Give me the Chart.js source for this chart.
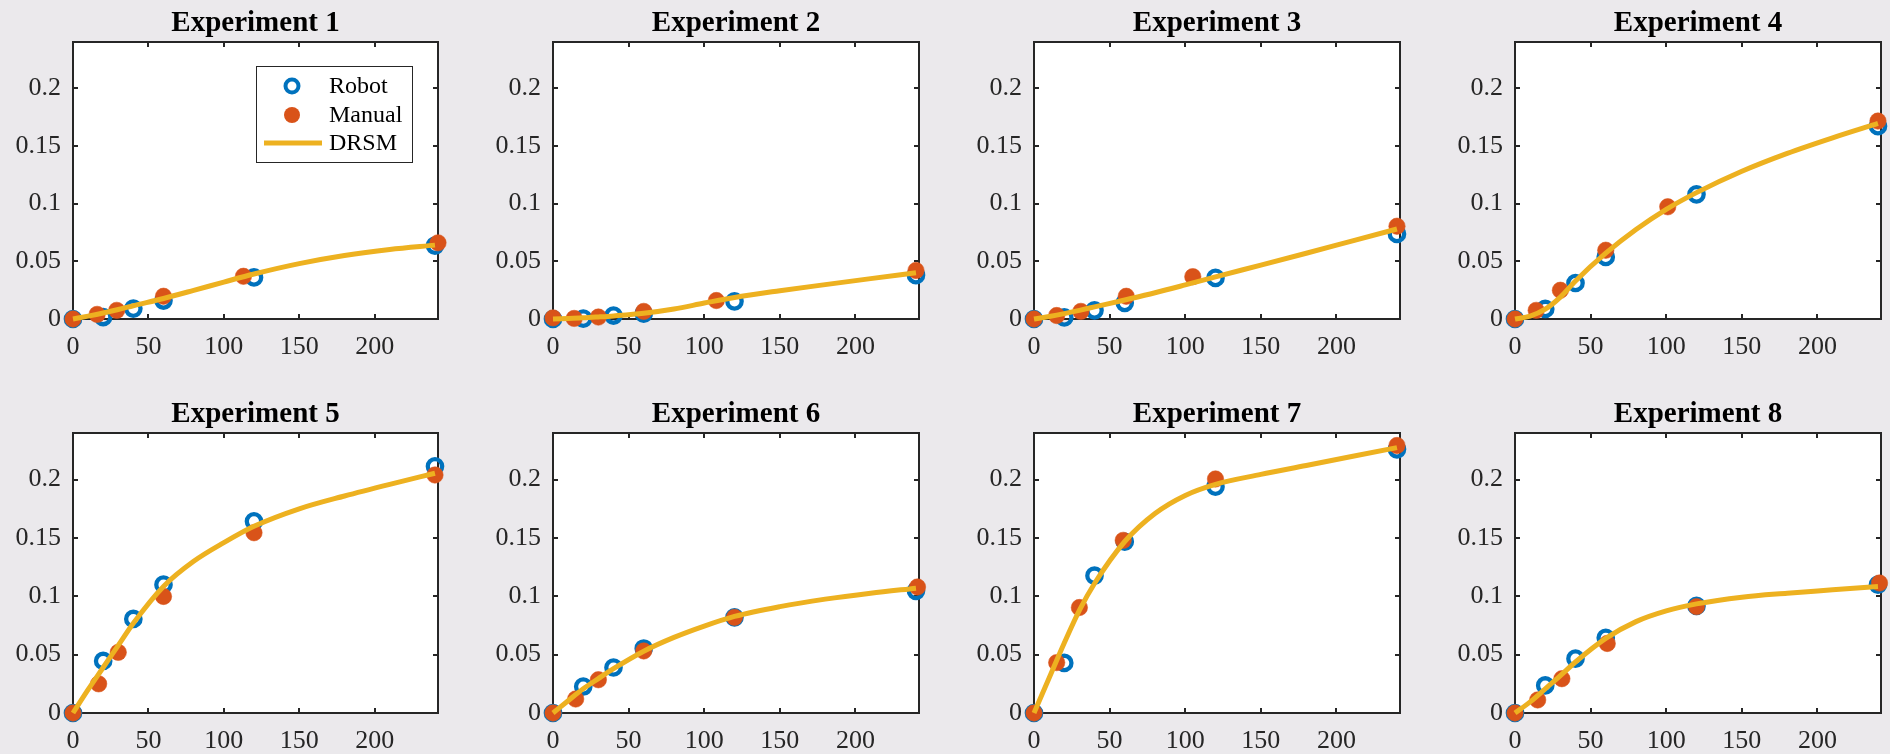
<!DOCTYPE html>
<html>
<head>
<meta charset="utf-8">
<script src="https://cdn.jsdelivr.net/npm/chart.js@4.4.1/dist/chart.umd.min.js"></script>
<style>
  html, body { margin: 0; padding: 0; background: #ebe9ec; width: 1890px; height: 754px; overflow: hidden; }
  canvas { position: absolute; }
</style>
</head>
<body>
<script>
// ---- data -------------------------------------------------------------
const titles = ['Experiment 1', 'Experiment 2', 'Experiment 3', 'Experiment 4',
                'Experiment 5', 'Experiment 6', 'Experiment 7', 'Experiment 8'];
const seriesNames = ['Robot', 'Manual', 'DRSM'];

const xTicks = [0, 50, 100, 150, 200];
const xTickLabels = ['0', '50', '100', '150', '200'];
const yTicks = [0, 0.05, 0.1, 0.15, 0.2];
const yTickLabels = ['0', '0.05', '0.1', '0.15', '0.2'];

// robot sampling times (shared by all experiments)
const robotTimes = [0, 20, 40, 60, 120, 240];
const robot1 = [0, 0.0017, 0.009, 0.016, 0.036, 0.0636];
const robot2 = [0, 0.0003, 0.003, 0.0046, 0.0153, 0.038];
const robot3 = [0, 0.0014, 0.0075, 0.014, 0.0356, 0.0737];
const robot4 = [0, 0.0087, 0.0312, 0.0538, 0.108, 0.167];
const robot5 = [0, 0.0446, 0.0806, 0.110, 0.1643, 0.2115];
const robot6 = [0, 0.0227, 0.039, 0.0553, 0.082, 0.1047];
const robot7 = [0, 0.0429, 0.1177, 0.1468, 0.194, 0.226];
const robot8 = [0, 0.0236, 0.0466, 0.0645, 0.0918, 0.110];

// manual sampling times and values
const manualTimes1 = [0, 16, 29, 60, 113, 242];
const manualTimes2 = [0, 14, 30, 60, 108, 240];
const manualTimes3 = [0, 15, 31, 61, 105, 240];
const manualTimes4 = [0, 14, 30, 60, 101, 240];
const manualTimes5 = [0, 17, 30, 60, 120, 240];
const manualTimes6 = [0, 15, 30, 60, 120, 241];
const manualTimes7 = [0, 15, 30, 59, 120, 240];
const manualTimes8 = [0, 15, 31, 61, 120, 241];
const manual1 = [0, 0.004, 0.0075, 0.0197, 0.037, 0.066];
const manual2 = [0.001, 0.0005, 0.0017, 0.0066, 0.016, 0.042];
const manual3 = [0, 0.003, 0.0066, 0.0197, 0.0367, 0.0804];
const manual4 = [0, 0.0075, 0.0249, 0.0596, 0.0972, 0.1715];
const manual5 = [0, 0.025, 0.052, 0.0999, 0.1545, 0.204];
const manual6 = [0, 0.012, 0.0285, 0.0532, 0.082, 0.108];
const manual7 = [0, 0.0432, 0.0904, 0.148, 0.2006, 0.2293];
const manual8 = [0, 0.0112, 0.0294, 0.0596, 0.0912, 0.1114];

// DRSM model curve
const drsmTimes = [0, 10, 20, 30, 40, 60, 80, 100, 120, 150, 180, 210, 240];
const drsm1 = [0, 0.0025, 0.0052, 0.0082, 0.0115, 0.0178, 0.0248, 0.032, 0.039, 0.048, 0.055, 0.0602, 0.064];
const drsm2 = [0, 0.0005, 0.001, 0.0018, 0.0027, 0.005, 0.0087, 0.0138, 0.0187, 0.0245, 0.0298, 0.035, 0.040];
const drsm3 = [0, 0.0022, 0.0047, 0.0075, 0.0105, 0.0165, 0.0227, 0.0295, 0.0365, 0.0467, 0.057, 0.0675, 0.078];
const drsm4 = [0, 0.0025, 0.0085, 0.019, 0.033, 0.057, 0.0775, 0.095, 0.1095, 0.128, 0.1435, 0.157, 0.1695];
const drsm5 = [0, 0.020, 0.039, 0.058, 0.077, 0.1085, 0.130, 0.146, 0.160, 0.175, 0.186, 0.196, 0.2055];
const drsm6 = [0, 0.0105, 0.0207, 0.0295, 0.038, 0.053, 0.0648, 0.0745, 0.0828, 0.0912, 0.0976, 0.1027, 0.107];
const drsm7 = [0, 0.030, 0.060, 0.088, 0.111, 0.147, 0.171, 0.1865, 0.1960, 0.2045, 0.2121, 0.2198, 0.2275];
const drsm8 = [0, 0.0095, 0.0207, 0.032, 0.0437, 0.0639, 0.0783, 0.0875, 0.0935, 0.0993, 0.1027, 0.1056, 0.1085];

const robotSets = [robot1, robot2, robot3, robot4, robot5, robot6, robot7, robot8];
const manualTimeSets = [manualTimes1, manualTimes2, manualTimes3, manualTimes4,
                        manualTimes5, manualTimes6, manualTimes7, manualTimes8];
const manualSets = [manual1, manual2, manual3, manual4, manual5, manual6, manual7, manual8];
const drsmSets = [drsm1, drsm2, drsm3, drsm4, drsm5, drsm6, drsm7, drsm8];

// ---- styling / layout --------------------------------------------------
const COLORS = { robot: '#0072bd', manual: '#d95319', drsm: '#edb120', axis: '#262626' };
const FONT = '"Liberation Serif", "DejaVu Serif", serif';
const colLeft = [73, 553, 1034, 1515];
const colRight = [438, 919, 1400, 1881];
const rowTop = [42, 433];
const rowBottom = [319, 713];
const AXIS_W = 80, AXIS_H = 45, TITLE_H = 40, PAD_R = 14;
const X_MAX = 242, Y_MAX = 0.24;

Chart.defaults.font.family = FONT;

const toPoints = (xs, ys) => xs.map((x, i) => ({ x: x, y: ys[i] }));

// white plot area, box outline and inward tick marks on all four sides
const framePlugin = {
  id: 'frame',
  beforeDraw(chart) {
    const { ctx, chartArea: a } = chart;
    ctx.save();
    ctx.fillStyle = '#ffffff';
    ctx.fillRect(a.left, a.top, a.right - a.left, a.bottom - a.top);
    ctx.restore();
  },
  beforeDatasetsDraw(chart) {
    const { ctx, chartArea: a, scales } = chart;
    const len = 5;
    ctx.save();
    ctx.strokeStyle = COLORS.axis;
    ctx.lineWidth = 2;
    ctx.beginPath();
    scales.x.ticks.forEach(t => {
      const px = Math.round(scales.x.getPixelForValue(t.value));
      ctx.moveTo(px, a.bottom); ctx.lineTo(px, a.bottom - len);
      ctx.moveTo(px, a.top); ctx.lineTo(px, a.top + len);
    });
    scales.y.ticks.forEach(t => {
      const py = Math.round(scales.y.getPixelForValue(t.value));
      ctx.moveTo(a.left, py); ctx.lineTo(a.left + len, py);
      ctx.moveTo(a.right, py); ctx.lineTo(a.right - len, py);
    });
    ctx.stroke();
    ctx.strokeRect(a.left, a.top, a.right - a.left, a.bottom - a.top);
    ctx.restore();
  }
};

// boxed legend placed in the upper right of the plot area
const boxLegendPlugin = {
  id: 'boxLegend',
  afterDatasetsDraw(chart, args, opts) {
    if (!opts.show) return;
    const { ctx, chartArea: a } = chart;
    const w = 156, h = 96;
    const left = a.right - 26 - w, top = a.top + 24;
    ctx.save();
    ctx.fillStyle = '#ffffff';
    ctx.fillRect(left, top, w, h);
    ctx.strokeStyle = COLORS.axis;
    ctx.lineWidth = 1;
    ctx.strokeRect(left + 0.5, top + 0.5, w, h);
    const rows = [top + 20, top + 49, top + 77];
    chart.data.datasets.forEach((ds, i) => {
      const cy = rows[i];
      const mx = left + 36;
      if (ds.showLine) {
        ctx.strokeStyle = ds.borderColor;
        ctx.lineWidth = ds.borderWidth;
        ctx.beginPath();
        ctx.moveTo(left + 8, cy); ctx.lineTo(left + 66, cy);
        ctx.stroke();
      } else if (ds.pointBackgroundColor === 'rgba(0,0,0,0)') {
        ctx.strokeStyle = ds.pointBorderColor;
        ctx.lineWidth = 4;
        ctx.beginPath();
        ctx.arc(mx, cy, 6.5, 0, Math.PI * 2);
        ctx.stroke();
      } else {
        ctx.fillStyle = ds.pointBackgroundColor;
        ctx.beginPath();
        ctx.arc(mx, cy, 8, 0, Math.PI * 2);
        ctx.fill();
      }
      ctx.fillStyle = '#000000';
      ctx.font = '24px ' + FONT;
      ctx.textAlign = 'left';
      ctx.textBaseline = 'middle';
      ctx.fillText(ds.label, left + 73, cy + 1);
    });
    ctx.restore();
  }
};

titles.forEach((title, k) => {
  const r = Math.floor(k / 4), c = k % 4;
  const plotW = colRight[c] - colLeft[c];
  const plotH = rowBottom[r] - rowTop[r];
  const canvas = document.createElement('canvas');
  const cw = plotW + AXIS_W + PAD_R;
  const ch = TITLE_H + plotH + AXIS_H;
  canvas.width = cw; canvas.height = ch;
  canvas.style.width = cw + 'px'; canvas.style.height = ch + 'px';
  canvas.style.left = (colLeft[c] - AXIS_W) + 'px';
  canvas.style.top = (rowTop[r] - TITLE_H) + 'px';
  document.body.appendChild(canvas);

  new Chart(canvas, {
    type: 'scatter',
    data: {
      datasets: [
        {
          label: seriesNames[0],
          data: toPoints(robotTimes, robotSets[k]),
          pointRadius: 7.2,
          pointBorderWidth: 4.3,
          pointBorderColor: COLORS.robot,
          pointBackgroundColor: 'rgba(0,0,0,0)',
          showLine: false,
          clip: false,
          order: 2
        },
        {
          label: seriesNames[1],
          data: toPoints(manualTimeSets[k], manualSets[k]),
          pointRadius: 8.2,
          pointBorderWidth: 1,
          pointBorderColor: 'rgba(217,83,25,0.55)',
          pointBackgroundColor: COLORS.manual,
          showLine: false,
          clip: false,
          order: 1
        },
        {
          label: seriesNames[2],
          data: toPoints(drsmTimes, drsmSets[k]),
          showLine: true,
          borderColor: COLORS.drsm,
          borderWidth: 5,
          pointRadius: 0,
          cubicInterpolationMode: 'monotone',
          borderCapStyle: 'butt',
          clip: false,
          order: 0
        }
      ]
    },
    options: {
      responsive: false,
      animation: false,
      devicePixelRatio: 1,
      events: [],
      layout: { padding: { left: 0, right: PAD_R, top: 0, bottom: 0 } },
      scales: {
        x: {
          type: 'linear',
          min: 0, max: X_MAX,
          grid: { display: false, drawTicks: false },
          border: { display: false },
          afterBuildTicks: s => { s.ticks = xTicks.map(v => ({ value: v })); },
          afterFit: s => { s.height = AXIS_H; },
          ticks: {
            autoSkip: false, maxRotation: 0, padding: 13,
            color: COLORS.axis,
            font: { size: 26, family: FONT, lineHeight: 1.2 },
            callback: (v, i) => xTickLabels[i]
          }
        },
        y: {
          type: 'linear',
          min: 0, max: Y_MAX,
          grid: { display: false, drawTicks: false },
          border: { display: false },
          afterBuildTicks: s => { s.ticks = yTicks.map(v => ({ value: v })); },
          afterFit: s => { s.width = AXIS_W; },
          ticks: {
            autoSkip: false, padding: 12,
            color: COLORS.axis,
            font: { size: 26, family: FONT },
            callback: (v, i) => yTickLabels[i]
          }
        }
      },
      plugins: {
        legend: { display: false },
        tooltip: { enabled: false },
        title: {
          display: true,
          text: title,
          fullSize: false,
          color: '#000000',
          font: { size: 29, weight: 'bold', family: FONT, lineHeight: 1 },
          padding: { top: TITLE_H - 29 - 4, bottom: 4 }
        },
        boxLegend: { show: k === 0 }
      }
    },
    plugins: [framePlugin, boxLegendPlugin]
  });
});
</script>
</body>
</html>
